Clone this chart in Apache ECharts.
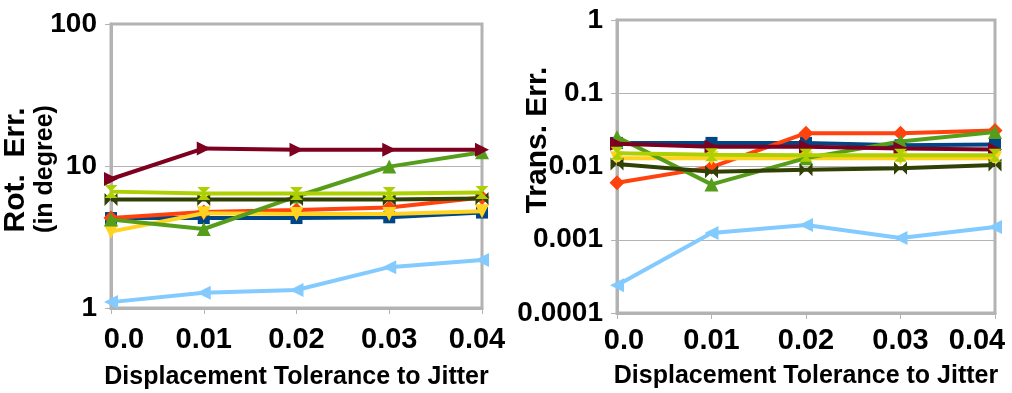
<!DOCTYPE html>
<html>
<head>
<meta charset="utf-8">
<script src="https://cdn.jsdelivr.net/npm/echarts@6/dist/echarts.min.js"></script>
<style>
  html, body { margin: 0; padding: 0; background: #fff; }
  #errChart { width: 1012px; height: 393px; }
</style>
</head>
<body>
<div id="errChart"></div>
<script>
// x축 (지터 허용 변위)
const categories = ['0.0', '0.01', '0.02', '0.03', '0.04'];
const rotTicks = [1, 10, 100];
const transTicks = [0.0001, 0.001, 0.01, 0.1, 1];

// 회전 오차 (degree)
const rotBlue      = [4.3, 4.3, 4.3, 4.35, 4.7];
const rotOrange    = [4.3, 4.75, 4.9, 5.1, 6.0];
const rotYellow    = [3.45, 4.65, 4.6, 4.6, 4.8];
const rotGreen     = [4.2, 3.6, 6.1, 9.9, 12.5];
const rotMaroon    = [8.1, 13.3, 13.0, 13.0, 13.0];
const rotLightBlue = [1.1, 1.28, 1.34, 1.94, 2.18];
const rotOlive     = [5.8, 5.8, 5.8, 5.8, 5.9];
const rotLime      = [6.6, 6.4, 6.4, 6.4, 6.5];

// 이동 오차
const trBlue      = [0.021, 0.021, 0.021, 0.0195, 0.020];
const trOrange    = [0.006, 0.0098, 0.0285, 0.0285, 0.031];
const trYellow    = [0.013, 0.013, 0.013, 0.013, 0.013];
const trGreen     = [0.0253, 0.0057, 0.013, 0.022, 0.0296];
const trMaroon    = [0.0205, 0.0186, 0.0186, 0.0176, 0.017];
const trLightBlue = [0.00024, 0.00124, 0.00159, 0.00106, 0.00149];
const trOlive     = [0.0108, 0.0085, 0.009, 0.0095, 0.0105];
const trLime      = [0.0152, 0.0145, 0.0142, 0.0142, 0.0142];

const FONT = '"Liberation Sans", Arial, sans-serif';
const GRAY = '#b3b3b3';

const bowtie = 'path://M0,0 L10,10 L10,0 L0,10 Z';
const sandglass = 'path://M0,0 L10,0 L0,10 L10,10 Z';

// 색상 / 마커 (LibreOffice 기본 순서)
const styles = [
    { name: 'S1', color: '#004586', symbol: 'rect', rotate: 0, size: 12 },
    { name: 'S2', color: '#ff420e', symbol: 'diamond', rotate: 0, size: 15 },
    { name: 'S3', color: '#ffd320', symbol: 'triangle', rotate: 180, size: 14 },
    { name: 'S4', color: '#579d1c', symbol: 'triangle', rotate: 0, size: 14 },
    { name: 'S5', color: '#7e0021', symbol: 'triangle', rotate: -90, size: 14 },
    { name: 'S6', color: '#83caff', symbol: 'triangle', rotate: 90, size: 14 },
    { name: 'S7', color: '#314004', symbol: bowtie, rotate: 0, size: 13 },
    { name: 'S8', color: '#aecf00', symbol: sandglass, rotate: 0, size: 13 },
];

const rotData = [rotBlue, rotOrange, rotYellow, rotGreen, rotMaroon, rotLightBlue, rotOlive, rotLime];
const trData = [trBlue, trOrange, trYellow, trGreen, trMaroon, trLightBlue, trOlive, trLime];

const makeSeries = (list, axisIdx) => list.map((vals, i) => ({
    name: styles[i].name,
    type: 'line',
    xAxisIndex: axisIdx,
    yAxisIndex: axisIdx,
    data: vals,
    symbol: styles[i].symbol,
    symbolRotate: styles[i].rotate,
    symbolSize: styles[i].size,
    showAllSymbol: true,
    lineStyle: { color: styles[i].color, width: 4 },
    itemStyle: { color: styles[i].color },
    animation: false,
    z: 2 + i
}));

const xLabelData = (firstPad, lastPad) => categories.map((c, i) => {
    if (i === 0) return { value: c, textStyle: { padding: [0, 0, 0, firstPad] } };
    if (i === categories.length - 1) return { value: c, textStyle: { padding: [0, lastPad, 0, 0] } };
    return c;
});

const xAxisBase = (idx, margin, gap, data) => ({
    type: 'category',
    gridIndex: idx,
    data: data,
    boundaryGap: false,
    axisLine: { show: true, lineStyle: { color: GRAY, width: 3 } },
    axisTick: { show: true, alignWithLabel: true, length: 6, lineStyle: { color: GRAY, width: 1 } },
    axisLabel: { margin: margin, color: '#000', fontFamily: FONT, fontWeight: 'bold', fontSize: 29 },
    name: 'Displacement Tolerance to Jitter',
    nameLocation: 'middle',
    nameGap: gap,
    nameTextStyle: { color: '#000', fontFamily: FONT, fontWeight: 'bold', fontSize: 25 }
});

const yAxisBase = (idx, min, max, ticks) => ({
    type: 'log',
    logBase: 10,
    gridIndex: idx,
    min: min,
    max: max,
    axisLine: { show: true, lineStyle: { color: GRAY, width: 3 } },
    axisTick: { show: true, length: 6, lineStyle: { color: GRAY, width: 1 } },
    splitLine: { show: true, lineStyle: { color: GRAY, width: 1 } },
    axisLabel: {
        margin: 14,
        color: '#000',
        fontFamily: FONT,
        fontWeight: 'bold',
        fontSize: 28,
        formatter: (v) => {
            const t = ticks.find(k => Math.abs(Math.log10(k) - Math.log10(v)) < 1e-6);
            return t !== undefined ? String(t) : '';
        }
    }
});

const drawChart = () => {
    var chartDom = document.getElementById('errChart');
    var myChart = echarts.init(chartDom, null, { renderer: 'canvas' });

    myChart.setOption({
        backgroundColor: '#fff',
        animation: false,
        grid: [
            { left: 111, top: 24, width: 371, height: 284, show: true, borderColor: GRAY, borderWidth: 3, outerBoundsMode: 'none', containLabel: false },
            { left: 617, top: 20, width: 378, height: 293, show: true, borderColor: GRAY, borderWidth: 3, outerBoundsMode: 'none', containLabel: false }
        ],
        xAxis: [
            xAxisBase(0, 17, 57, xLabelData(26, 10)),
            xAxisBase(1, 13, 51, xLabelData(14, 36))
        ],
        yAxis: [
            yAxisBase(0, 1, 100, rotTicks),
            yAxisBase(1, 0.0001, 1, transTicks)
        ],
        graphic: [
            {
                type: 'text', x: 16, y: 170, rotation: Math.PI / 2,
                style: { text: 'Rot.  Err.', font: 'bold 30px ' + FONT, fill: '#000', align: 'center', verticalAlign: 'middle' }
            },
            {
                type: 'text', x: 45, y: 169, rotation: Math.PI / 2,
                style: { text: '(in degree)', font: 'bold 25px ' + FONT, fill: '#000', align: 'center', verticalAlign: 'middle' }
            },
            {
                type: 'text', x: 538, y: 140, rotation: Math.PI / 2,
                style: { text: 'Trans. Err.', font: 'bold 30px ' + FONT, fill: '#000', align: 'center', verticalAlign: 'middle' }
            }
        ],
        series: [...makeSeries(rotData, 0), ...makeSeries(trData, 1)]
    });

    new ResizeObserver(() => myChart.resize()).observe(chartDom);
};

drawChart();
</script>
</body>
</html>
